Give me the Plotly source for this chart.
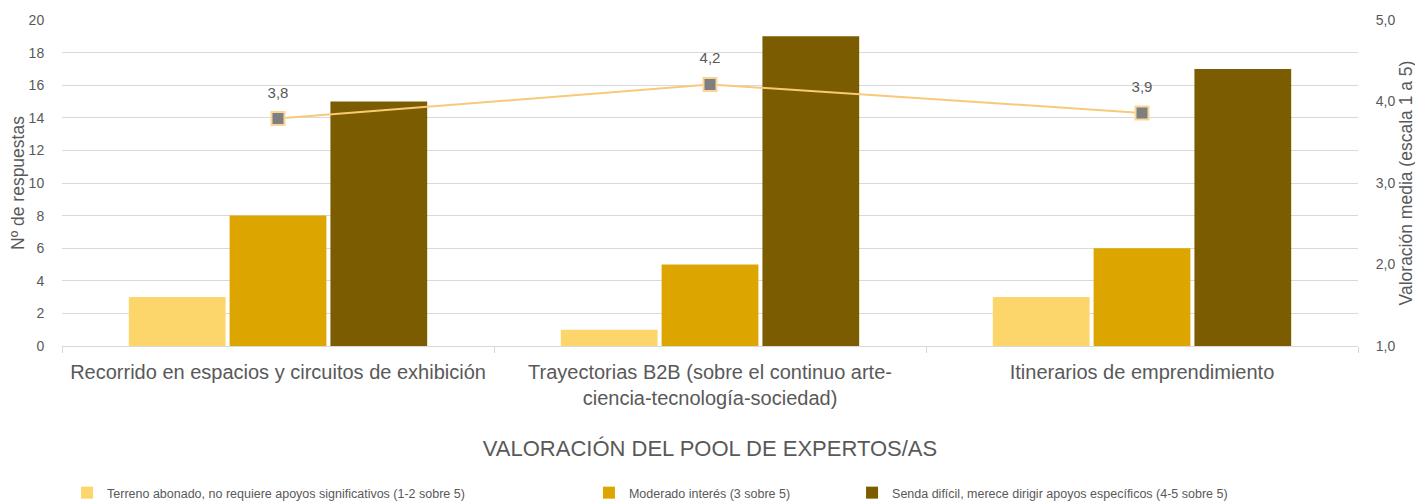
import plotly.graph_objects as go

categories = [
    "Recorrido en espacios y circuitos de exhibición",
    "Trayectorias B2B (sobre el continuo arte-<br>ciencia-tecnología-sociedad)",
    "Itinerarios de emprendimiento",
]
series_names = [
    "Terreno abonado, no requiere apoyos significativos (1-2 sobre 5)",
    "Moderado interés (3 sobre 5)",
    "Senda difícil, merece dirigir apoyos específicos (4-5 sobre 5)",
]
low_values = [3, 1, 3]
mid_values = [8, 5, 6]
high_values = [15, 19, 17]
mean_values = [3.79, 4.21, 3.86]
mean_labels = ["3,8", "4,2", "3,9"]

colors = ["#FCD56B", "#DDA500", "#7B5C00"]
txt = "#595959"
font_main = "Liberation Sans, Arial, sans-serif"

legend_ids = ["legend", "legend2", "legend3"]
legend_x = [0.0039, 0.4066, 0.6096]

fig = go.Figure()
for name, vals, c, lg in zip(series_names, [low_values, mid_values, high_values], colors, legend_ids):
    fig.add_trace(go.Bar(
        x=categories, y=vals, name=name, marker=dict(color=c, line=dict(width=0)),
        yaxis="y", legend=lg,
    ))

fig.add_trace(go.Scatter(
    x=categories, y=mean_values, yaxis="y2", mode="lines+markers",
    line=dict(color="#F9C978", width=2),
    marker=dict(symbol="square", size=13, color="#7F7F7F",
                line=dict(color="#FAD59A", width=2)),
    showlegend=False, cliponaxis=False,
))
# data labels, lifted above the markers
fig.add_trace(go.Scatter(
    x=categories, y=mean_values, yaxis="y2", mode="markers+text",
    text=mean_labels, textposition="top center",
    textfont=dict(size=15, color=txt, family=font_main),
    marker=dict(size=26, opacity=0),
    showlegend=False, cliponaxis=False, hoverinfo="skip",
))

leg_common = dict(orientation="h", xanchor="left", y=-0.451, yanchor="middle",
                  font=dict(family=font_main, size=12.5, color=txt),
                  itemwidth=30, bgcolor="rgba(0,0,0,0)")

# page body has an 8px margin: figure is sized/offset to compensate
fig.update_layout(
    width=1415, height=496,
    margin=dict(l=54, r=65, t=12, b=158, autoexpand=False),
    paper_bgcolor="white", plot_bgcolor="white",
    font=dict(family=font_main, color=txt, size=14),
    barmode="group", bargap=0.3, bargroupgap=0.04,
    showlegend=True,
    legend=dict(x=legend_x[0], **leg_common),
    legend2=dict(x=legend_x[1], **leg_common),
    legend3=dict(x=legend_x[2], **leg_common),
    xaxis=dict(
        tickfont=dict(size=20, color=txt),
        showgrid=False, showline=True, linecolor="#D9D9D9", linewidth=1,
        ticks="outside", tickson="boundaries", ticklen=6, tickcolor="#D9D9D9",
        ticklabelstandoff=8,
        title=dict(text="VALORACIÓN DEL POOL DE EXPERTOS/AS",
                   font=dict(size=22, color=txt), standoff=32),
    ),
    yaxis=dict(
        range=[0, 20], dtick=2, showgrid=True, gridcolor="#D9D9D9", gridwidth=1,
        zeroline=False, tickfont=dict(size=14, color=txt),
        ticks="outside", ticklen=14, tickcolor="rgba(0,0,0,0)",
        title=dict(text="Nº de respuestas", font=dict(size=17.5, color=txt), standoff=1),
    ),
    yaxis2=dict(
        range=[1, 5], dtick=1, overlaying="y", side="right", showgrid=False,
        zeroline=False, tickformat=".1f", tickfont=dict(size=14, color=txt),
        ticks="outside", ticklen=14, tickcolor="rgba(0,0,0,0)",
        title=dict(text="Valoración media (escala 1 a 5)", font=dict(size=17.5, color=txt), standoff=5),
    ),
    separators=",.",
)

fig.write_html("out.html")
